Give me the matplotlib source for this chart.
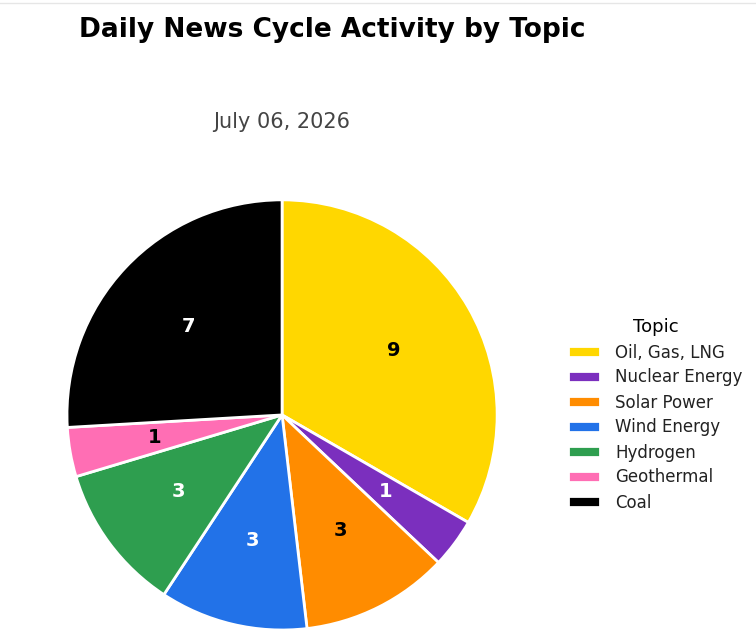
import matplotlib.pyplot as plt
from matplotlib.lines import Line2D

plt.rcParams['font.family'] = ['DejaVu Sans']

topics = ['Oil, Gas, LNG', 'Nuclear Energy', 'Solar Power', 'Wind Energy',
          'Hydrogen', 'Geothermal', 'Coal']
counts = [9, 1, 3, 3, 3, 1, 7]
colors = ['#FFD700', '#7B2FBE', '#FF8C00', '#2272E8', '#2E9E4F', '#FF6EB4', '#000000']
label_colors = ['black', 'white', 'black', 'white', 'white', 'black', 'white']

fig = plt.figure(figsize=(7.56, 6.42), dpi=100)
ax = fig.add_axes([0.0886, 0.0187, 0.569, 0.67])

wedges, texts, autotexts = ax.pie(
    counts, colors=colors, startangle=90, counterclock=False,
    autopct=lambda p: '%d' % round(p * sum(counts) / 100),
    pctdistance=0.6,
    wedgeprops=dict(edgecolor='white', linewidth=2),
    textprops=dict(fontsize=14, fontweight='bold'))
for t, c in zip(autotexts, label_colors):
    t.set_color(c)
ax.set_xlim(-1.0, 1.0)
ax.set_ylim(-1.0, 1.0)
ax.set_aspect('equal')
for w in wedges:
    w.set_clip_on(False)

# titles
fig.text(332 / 756, 1 - 30 / 642, 'Daily News Cycle Activity by Topic',
         ha='center', va='center', fontsize=19, fontweight='bold')
fig.text(282 / 756, 1 - 122 / 642, 'July 06, 2026',
         ha='center', va='center', fontsize=15, color='#444444')

leg = fig.legend(wedges, topics, title='Topic', loc='center left',
                 bbox_to_anchor=(0.732, 1 - 415 / 642), frameon=False,
                 fontsize=12, title_fontsize=13, handlelength=1.9,
                 handleheight=0.6, labelspacing=0.42, handletextpad=0.9)
for t in leg.get_texts():
    t.set_color('#222222')

# thin border line at top
fig.add_artist(Line2D([0, 1], [1 - 3 / 642, 1 - 3 / 642], color='#e6e6e6', lw=1))

fig.savefig('out.png', dpi=100)
